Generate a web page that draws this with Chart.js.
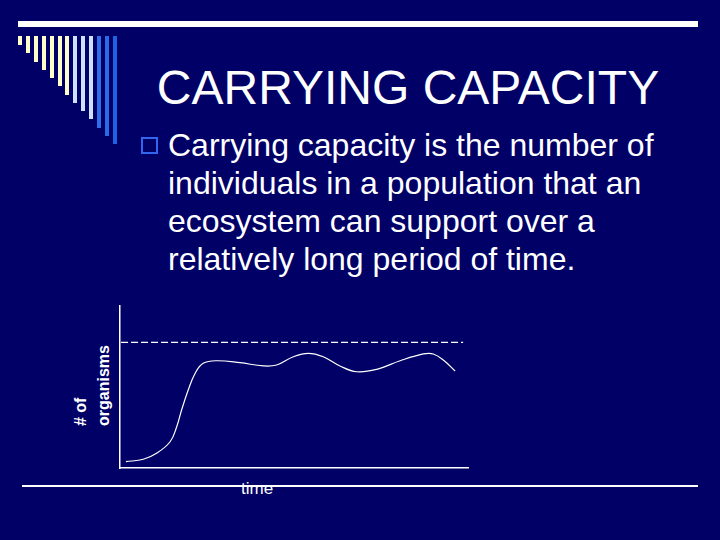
<!DOCTYPE html>
<html>
<head>
<meta charset="utf-8">
<title>Carrying capacity</title>
<script src="https://cdn.jsdelivr.net/npm/chart.js@4.4.1/dist/chart.umd.min.js"></script>
<style>
    html, body {
        margin: 0;
        padding: 0;
        background: #000066;
    }
    .slide {
        position: relative;
        width: 720px;
        height: 540px;
        overflow: hidden;
        background: #000066;
        font-family: "Liberation Sans", Arial, sans-serif;
        color: #ffffff;
    }
    .top-bar {
        position: absolute;
        left: 18px;
        top: 21px;
        width: 680px;
        height: 6px;
        background: #ffffff;
    }
    .stripe {
        position: absolute;
        top: 36px;
        width: 4px;
    }
    .title {
        position: absolute;
        left: 108px;
        top: 64px;
        width: 600px;
        text-align: center;
        font-size: 48px;
        line-height: 48px;
        white-space: nowrap;
    }
    .bullet-box {
        position: absolute;
        left: 141px;
        top: 137px;
        width: 13px;
        height: 13px;
        border: 2px solid #3366ee;
    }
    .bullet-text {
        position: absolute;
        left: 168px;
        top: 126px;
        font-size: 32px;
        line-height: 38px;
        white-space: nowrap;
    }
    .y-label {
        position: absolute;
        left: 69px;
        top: 426px;
        transform: rotate(-90deg);
        transform-origin: 0 0;
        font-size: 16px;
        font-weight: bold;
        line-height: 23px;
        white-space: nowrap;
    }
    .bottom-line {
        position: absolute;
        left: 22px;
        top: 485px;
        width: 676px;
        height: 2px;
        background: #ffffff;
    }
    .x-label {
        position: absolute;
        left: 241px;
        top: 480px;
        font-size: 17px;
        line-height: 17px;
    }
    #popChart {
        position: absolute;
        left: 0;
        top: 0;
    }
</style>
</head>
<body>
<div class="slide" id="slide">
    <div class="top-bar"></div>
    <div class="title">CARRYING CAPACITY</div>
    <div class="bullet-box"></div>
    <div class="bullet-text">Carrying capacity is the number of<br>individuals in a population that an<br>ecosystem can support over a<br>relatively long period of time.</div>
    <div class="y-label"># of<br>organisms</div>
    <div class="bottom-line"></div>
    <div class="x-label">time</div>
    <canvas id="popChart" width="720" height="540"></canvas>
</div>

<script>
// Population curve (axis units 0..100, no ticks shown)
const timeValues = [1.7, 6.7, 10.5, 14.4, 16.3, 17.7, 19.6, 21.6, 23.9, 27.8, 34.5, 41.2, 45.0, 49.8, 54.1, 58.4, 63.2, 68.0, 73.8, 80.5, 87.2, 90.0, 92.9, 96.3];
const populationValues = [3.9, 5.4, 9.1, 16.2, 25.5, 35.8, 48.1, 58.5, 64.6, 66.2, 65.0, 63.0, 63.6, 68.7, 70.8, 68.7, 63.0, 59.4, 60.9, 66.2, 70.4, 70.4, 66.7, 59.9];

// Carrying capacity (dashed line)
const capacityTime = [0.3, 98.6];
const capacityLevel = [77.5, 77.5];

// Decorative stripes at top left
const stripeColors = ['#ffffcc', '#ffffcc', '#ffffcc', '#ffffcc', '#ffffcc', '#ffffcc', '#ffffcc',
    '#cfe0ff', '#cfe0ff', '#cfe0ff', '#2f6fe8', '#2b6be8', '#1f62e4'];

const slide = document.getElementById('slide');
stripeColors.forEach((color, i) => {
    const s = document.createElement('div');
    s.className = 'stripe';
    s.style.left = (18 + i * 7.9) + 'px';
    s.style.height = (9 + i * 8.25) + 'px';
    s.style.background = color;
    slide.appendChild(s);
});

function toPoints(xs, ys) {
    return xs.map((x, i) => ({ x: x, y: ys[i] }));
}

const ctx = document.getElementById('popChart').getContext('2d');
let chart = new Chart(ctx, {
    type: 'line',
    data: {
        datasets: [{
            label: 'Population',
            data: toPoints(timeValues, populationValues),
            borderColor: '#ffffff',
            borderWidth: 1.2,
            pointRadius: 0,
            tension: 0.4,
            fill: false
        }, {
            label: 'Carrying capacity',
            data: toPoints(capacityTime, capacityLevel),
            borderColor: '#ffffff',
            borderWidth: 1.2,
            borderDash: [7, 3],
            pointRadius: 0,
            fill: false
        }]
    },
    options: {
        responsive: false,
        animation: false,
        layout: {
            padding: { left: 120, top: 306, right: 252, bottom: 72 }
        },
        plugins: {
            legend: { display: false },
            tooltip: { enabled: false }
        },
        scales: {
            x: {
                type: 'linear',
                min: 0,
                max: 100,
                grid: { display: false, drawTicks: false },
                ticks: { display: false },
                border: { display: true, color: '#ffffff', width: 1.5 }
            },
            y: {
                min: 0,
                max: 100,
                grid: { display: false, drawTicks: false },
                ticks: { display: false },
                border: { display: true, color: '#ffffff', width: 1.5 }
            }
        }
    }
});
</script>
</body>
</html>
